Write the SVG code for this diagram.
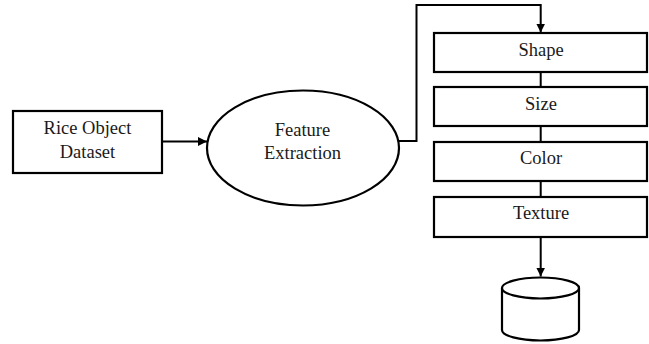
<svg xmlns="http://www.w3.org/2000/svg" width="649" height="344" viewBox="0 0 649 344">
  <style>
    .box { fill: #ffffff; stroke: #000000; stroke-width: 2.2; }
    .line { fill: none; stroke: #000000; stroke-width: 2; }
    .lbl { font-family: "Liberation Serif", "Times New Roman", serif; font-size: 18.5px; fill: #1a1a1a; text-anchor: middle; }
  </style>
  <defs>
    <marker id="arrow" viewBox="0 0 10 10" refX="10" refY="5" markerWidth="9" markerHeight="9" markerUnits="userSpaceOnUse" orient="auto">
      <path d="M0,0 L10,5 L0,10 Z" fill="#000000"/>
    </marker>
  </defs>
  <rect width="649" height="344" fill="#ffffff"/>

  <!-- connectors -->
  <g id="connectors">
    <line class="line" x1="162" y1="141.5" x2="207" y2="141.5" marker-end="url(#arrow)"/>
    <polyline class="line" points="399,141 416.5,141 416.5,5 540.7,5 540.7,32.5" marker-end="url(#arrow)"/>
    <line class="line" x1="540.7" y1="72" x2="540.7" y2="87"/>
    <line class="line" x1="540.7" y1="126" x2="540.7" y2="142"/>
    <line class="line" x1="540.7" y1="181" x2="540.7" y2="197"/>
    <line class="line" x1="540.7" y1="237" x2="540.7" y2="276.5" marker-end="url(#arrow)"/>
  </g>

  <g id="rice-object-dataset">
    <rect class="box" x="13" y="111" width="149" height="62"/>
    <text class="lbl" x="87.5" y="134.3">Rice Object</text>
    <text class="lbl" x="87.5" y="157.7">Dataset</text>
  </g>

  <g id="feature-extraction">
    <ellipse class="box" cx="303" cy="148" rx="96" ry="57.5"/>
    <text class="lbl" x="302.5" y="135.7">Feature</text>
    <text class="lbl" x="302.5" y="159.3">Extraction</text>
  </g>

  <g id="shape">
    <rect class="box" x="434" y="33" width="213" height="39"/>
    <text class="lbl" x="541" y="56">Shape</text>
  </g>

  <g id="size">
    <rect class="box" x="434" y="87" width="213" height="39"/>
    <text class="lbl" x="541" y="110">Size</text>
  </g>

  <g id="color">
    <rect class="box" x="434" y="142" width="213" height="39"/>
    <text class="lbl" x="541" y="163.5">Color</text>
  </g>

  <g id="texture">
    <rect class="box" x="434" y="197" width="213" height="40"/>
    <text class="lbl" x="541" y="219">Texture</text>
  </g>

  <g id="database">
    <path class="box" d="M502,288 L502,330 A38.5,10.5 0 0 0 579,330 L579,288"/>
    <ellipse class="box" cx="540.5" cy="288" rx="38.5" ry="10.5"/>
  </g>
</svg>
